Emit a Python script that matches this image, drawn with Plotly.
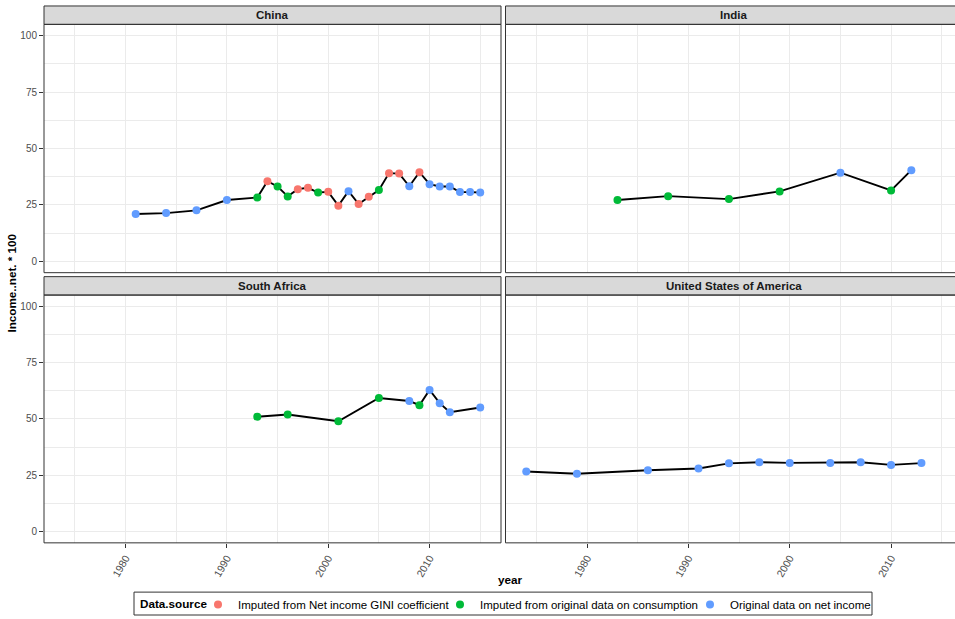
import plotly.graph_objects as go
from plotly.subplots import make_subplots

W, H = 955, 619

SOURCES = [
    "Imputed from Net income GINI coefficient",
    "Imputed from original data on consumption",
    "Original data on net income",
]
SOURCE_COLORS = ["#F8766D", "#00BA38", "#619CFF"]

# source codes: 0 = GINI imputed, 1 = consumption imputed, 2 = original net income
china_year = [1981, 1984, 1987, 1990, 1993, 1994, 1995, 1996, 1997, 1998, 1999, 2000, 2001, 2002,
              2003, 2004, 2005, 2006, 2007, 2008, 2009, 2010, 2011, 2012, 2013, 2014, 2015]
china_value = [21.0, 21.4, 22.6, 27.2, 28.3, 35.5, 33.2, 28.8, 32.0, 32.6, 30.5, 30.8, 24.7, 31.1,
               25.4, 28.6, 31.6, 39.1, 38.9, 33.3, 39.5, 34.2, 33.2, 33.2, 30.7, 30.7, 30.5]
china_source = [2, 2, 2, 2, 1, 0, 1, 1, 0, 0, 1, 0, 0, 2,
                0, 0, 1, 0, 0, 2, 0, 2, 2, 2, 2, 2, 2]

india_year = [1983, 1988, 1994, 1999, 2005, 2010, 2012]
india_value = [27.2, 28.9, 27.6, 31.0, 39.3, 31.4, 40.4]
india_source = [1, 1, 1, 1, 2, 1, 2]

safrica_year = [1993, 1996, 2001, 2005, 2008, 2009, 2010, 2011, 2012, 2015]
safrica_value = [51.0, 52.0, 49.0, 59.3, 58.0, 56.1, 62.9, 57.0, 53.0, 55.1]
safrica_source = [1, 1, 1, 1, 2, 1, 2, 2, 2, 2]

usa_year = [1974, 1979, 1986, 1991, 1994, 1997, 2000, 2004, 2007, 2010, 2013]
usa_value = [26.7, 25.7, 27.2, 28.0, 30.3, 30.8, 30.5, 30.5, 30.8, 29.6, 30.4]
usa_source = [2, 2, 2, 2, 2, 2, 2, 2, 2, 2, 2]

panels = [
    ("China", china_year, china_value, china_source, 1, 1),
    ("India", india_year, india_value, india_source, 1, 2),
    ("South Africa", safrica_year, safrica_value, safrica_source, 2, 1),
    ("United States of America", usa_year, usa_value, usa_source, 2, 2),
]

FONT = "Liberation Sans, Arial, sans-serif"
LEGEND_IDS = ["legend", "legend2", "legend3"]

fig = make_subplots(rows=2, cols=2)

shown = set()
for name, yrs, vals, srcs, r, c in panels:
    fig.add_trace(go.Scatter(x=yrs, y=vals, mode="lines",
                             line=dict(color="black", width=1.9),
                             showlegend=False, hoverinfo="skip"), row=r, col=c)
    for k, label in enumerate(SOURCES):
        xs = [y for y, s in zip(yrs, srcs) if s == k]
        vs = [v for v, s in zip(vals, srcs) if s == k]
        if not xs:
            continue
        fig.add_trace(go.Scatter(x=xs, y=vs, mode="markers", name=label,
                                 marker=dict(color=SOURCE_COLORS[k], size=8),
                                 legend=LEGEND_IDS[k], legendgroup=label,
                                 showlegend=label not in shown),
                      row=r, col=c)
        shown.add(label)

# panel geometry in pixels
left_x = (44, 501)
right_x = (505.5, 962)
top_y = (24.5, 274)
bot_y = (296.5, 545.5)
strip_h = 18.5

def px_x(p):
    return p / W

def px_y(p):
    return 1 - p / H

grid = "#EBEBEB"
axis_common = dict(showgrid=True, gridcolor=grid, gridwidth=1, zeroline=False, showline=False,
                   ticklen=4, tickcolor="#333333", tickwidth=1)

x_range_left = [1971.95, 2017.05]
x_range_right = [1971.95, 2016.31]

for r, c in [(1, 1), (1, 2), (2, 1), (2, 2)]:
    xd = [px_x(left_x[0]), px_x(left_x[1])] if c == 1 else [px_x(right_x[0]), 1.0]
    yd = sorted([px_y(top_y[0]), px_y(top_y[1])]) if r == 1 else sorted([px_y(bot_y[0]), px_y(bot_y[1])])
    fig.update_xaxes(domain=xd, range=x_range_left if c == 1 else x_range_right,
                     tick0=1980, dtick=10,
                     minor=dict(tick0=1975, dtick=5, showgrid=True, gridcolor=grid, gridwidth=0.5),
                     ticks="outside" if r == 2 else "", showticklabels=(r == 2),
                     tickangle=-60, tickfont=dict(family=FONT, size=10.5, color="#4D4D4D"),
                     row=r, col=c, **axis_common)
    fig.update_yaxes(domain=yd, range=[-5, 105], tick0=0, dtick=25,
                     minor=dict(tick0=12.5, dtick=25, showgrid=True, gridcolor=grid, gridwidth=0.5),
                     ticks="outside" if c == 1 else "", showticklabels=(c == 1),
                     tickfont=dict(family=FONT, size=10, color="#4D4D4D"),
                     row=r, col=c, **axis_common)

shapes = []
annotations = []
for name, _, _, _, r, c in panels:
    x0, x1 = left_x if c == 1 else right_x
    y0, y1 = top_y if r == 1 else bot_y
    # strip
    shapes.append(dict(type="rect", xref="paper", yref="paper",
                       x0=px_x(x0), x1=px_x(x1), y0=px_y(y0 - strip_h), y1=px_y(y0),
                       fillcolor="#D9D9D9", line=dict(color="#333333", width=1), layer="above"))
    # panel border
    shapes.append(dict(type="rect", xref="paper", yref="paper",
                       x0=px_x(x0), x1=px_x(x1), y0=px_y(y1), y1=px_y(y0),
                       fillcolor="rgba(0,0,0,0)", line=dict(color="#333333", width=1), layer="above"))
    annotations.append(dict(text="<b>%s</b>" % name, xref="paper", yref="paper",
                            x=px_x((x0 + x1) / 2), y=px_y(y0 - strip_h / 2),
                            showarrow=False, xanchor="center", yanchor="middle",
                            font=dict(family=FONT, size=11.5, color="#1A1A1A")))

annotations.append(dict(text="<b>year</b>", xref="paper", yref="paper",
                        x=px_x(510), y=px_y(582), showarrow=False,
                        xanchor="center", yanchor="middle",
                        font=dict(family=FONT, size=11.7, color="black")))
annotations.append(dict(text="<b>Income..net. * 100</b>", xref="paper", yref="paper",
                        x=px_x(12), y=px_y(285), showarrow=False, textangle=-90,
                        xanchor="center", yanchor="middle",
                        font=dict(family=FONT, size=11.7, color="black")))

# legend box and title
leg_box = (134, 872, 595, 618)
shapes.append(dict(type="rect", xref="paper", yref="paper",
                   x0=px_x(leg_box[0]), x1=px_x(leg_box[1]),
                   y0=px_y(leg_box[3]), y1=px_y(leg_box[2]),
                   fillcolor="white", line=dict(color="#333333", width=1), layer="below"))
leg_mid = (leg_box[2] + leg_box[3]) / 2
annotations.append(dict(text="<b>Data.source</b>", xref="paper", yref="paper",
                        x=px_x(138), y=px_y(leg_mid), showarrow=False,
                        xanchor="left", yanchor="middle",
                        font=dict(family=FONT, size=11.7, color="black")))

# one legend per data source, positioned along a single row
entry_dot_x = [218, 460, 710]
legend_layout = {}
for lid, dx in zip(LEGEND_IDS, entry_dot_x):
    legend_layout[lid] = dict(orientation="h", x=px_x(dx - 20), xanchor="left",
                              y=px_y(leg_mid + 1), yanchor="middle",
                              borderwidth=0, bgcolor="rgba(0,0,0,0)",
                              font=dict(family=FONT, size=11.5, color="black"),
                              itemwidth=30)

fig.update_layout(
    width=W, height=H,
    margin=dict(l=0, r=0, t=0, b=0),
    plot_bgcolor="white", paper_bgcolor="white",
    shapes=shapes, annotations=annotations,
    **legend_layout,
)

fig.write_html("out.html")
